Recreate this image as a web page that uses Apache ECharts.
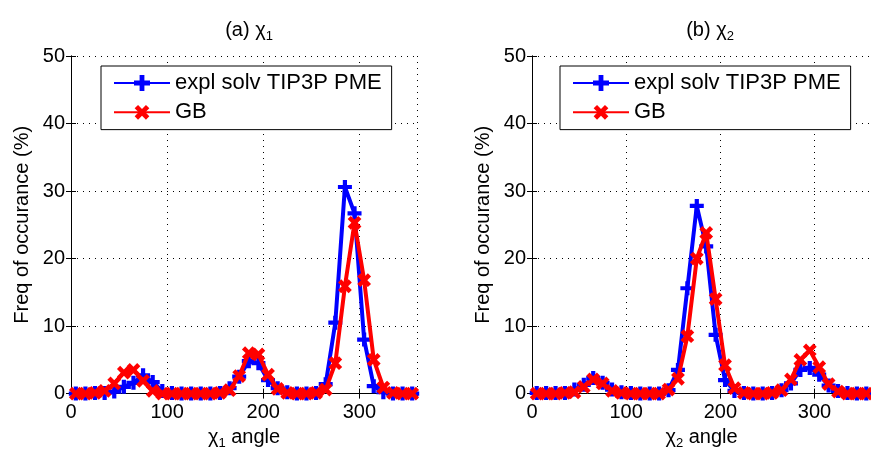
<!DOCTYPE html>
<html>
<head>
<meta charset="utf-8">
<script src="https://cdn.jsdelivr.net/npm/echarts@6/dist/echarts.min.js"></script>
<style>
html,body{margin:0;padding:0;background:#fff;}
#c{width:871px;height:455px;}
</style>
</head>
<body>
<div id="c"></div>
<script>
// ---- data ----
const angles = [5,15,25,35,45,55,65,75,85,95,105,115,125,135,145,155,165,175,185,195,205,215,225,235,245,255,265,275,285,295,305,315,325,335,345,355];
const chi1Expl = [0,0,0.1,0.1,0.3,1.0,1.6,2.7,1.7,0.4, 0.1,0,0,0,0,0.1,0.8,2.5,4.8,4.5, 2.0,0.8,0.2,0,0,0.1,1.4,10.5,30.6,26.7, 8.0,1.1,0.2,0,0,0];
const chi1GB   = [0,0,0.1,0.4,1.5,3.1,3.5,1.9,0.4,0, 0,0,0,0,0,0.1,0.5,2.6,6.0,5.8, 2.8,0.7,0.1,0,0,0.1,0.6,4.5,15.9,25.3, 16.8,5.0,0.9,0.1,0,0];
const chi2Expl = [0.1,0.1,0.1,0.1,0.6,1.3,2.3,1.6,0.6,0.2, 0.1,0,0,0,0.5,3.5,15.6,27.8,21.8,8.7, 2.0,0.4,0.1,0,0,0.1,0.5,1.5,3.5,3.8, 2.8,1.2,0.4,0.1,0,0];
const chi2GB   = [0,0,0,0.1,0.2,1.0,2.1,1.5,0.4,0.1, 0,0,0,0,0.6,2.2,8.5,20.0,23.8,14.0, 4.2,0.8,0.1,0,0,0.1,0.5,2.1,5.0,6.4, 3.9,1.4,0.3,0,0,0];
const xTicks = [0,100,200,300];
const yTicks = [0,10,20,30,40,50];
const seriesNames = ['expl solv TIP3P PME','GB'];
const panelTitles = ['(a) χ','(b) χ'];
const panelSubs = ['1','2'];
const yAxisTitle = 'Freq of occurance (%)';
const xAxisTitleRest = ' angle';

// ---- style ----
const FONT = 'Liberation Sans, Arial, Helvetica, sans-serif';
const BLUE = '#0000ff', RED = '#ff0000';
const PLUS = 'path://M3.5,0L6.5,0L6.5,3.5L10,3.5L10,6.5L6.5,6.5L6.5,10L3.5,10L3.5,6.5L0,6.5L0,3.5L3.5,3.5Z';
const grids = [
  {left:71, top:56, width:346, height:345},
  {left:532, top:56, width:346, height:345}
];
const axisLine = {show:true, lineStyle:{color:'#000', width:1}};
const tick = {show:true, inside:true, length:5, lineStyle:{color:'#000'}};
const split = {show:true, lineStyle:{color:'#000', width:1, type:[1,5]}};
const lbl = {color:'#000', fontSize:20, fontFamily:FONT};

const xAxis = [], yAxis = [], series = [], title = [], legend = [];
for (let g = 0; g < 2; g++) {
  xAxis.push({gridIndex:g, type:'value', position:'bottom', min:0, max:360, interval:100,
    axisLine, axisTick:tick, splitLine:split,
    axisLabel:Object.assign({margin:9, showMaxLabel:false,
      formatter:v => xTicks.includes(v) ? String(v) : ''}, lbl),
    name:'{g|χ}{s|' + panelSubs[g] + '}{g|' + xAxisTitleRest + '}', nameLocation:'middle', nameGap:26,
    nameTextStyle:{color:'#000', fontFamily:FONT,
      rich:{g:{fontSize:20, fontFamily:FONT, color:'#000'}, s:{fontSize:13, fontFamily:FONT, color:'#000', padding:[12,0,0,0]}}}
  });
  xAxis.push({gridIndex:g, type:'value', position:'top', min:0, max:360, interval:100,
    axisLine, axisTick:tick, splitLine:{show:false}, axisLabel:{show:false}});
  yAxis.push({gridIndex:g, type:'value', position:'left', min:0, max:50, interval:10,
    axisLine, axisTick:tick, splitLine:split,
    axisLabel:Object.assign({margin:6, formatter:v => yTicks.includes(v) ? String(v) : ''}, lbl),
    name:yAxisTitle, nameLocation:'middle', nameGap:39,
    nameTextStyle:{color:'#000', fontSize:20, fontFamily:FONT}
  });
  yAxis.push({gridIndex:g, type:'value', position:'right', min:0, max:50, interval:10,
    axisLine, axisTick:tick, splitLine:{show:false}, axisLabel:{show:false}});

  const vals = g === 0 ? [chi1Expl, chi1GB] : [chi2Expl, chi2GB];
  series.push({
    name:seriesNames[0], type:'line', xAxisIndex:2*g, yAxisIndex:2*g,
    data:angles.map((a,i)=>[a, vals[0][i]]),
    symbol:PLUS, symbolSize:14, showAllSymbol:true,
    lineStyle:{color:BLUE, width:4}, itemStyle:{color:BLUE}, z:2
  });
  series.push({
    name:seriesNames[1], type:'line', xAxisIndex:2*g, yAxisIndex:2*g,
    data:angles.map((a,i)=>[a, vals[1][i]]),
    symbol:PLUS, symbolSize:15, symbolRotate:45, showAllSymbol:true,
    lineStyle:{color:RED, width:4}, itemStyle:{color:RED}, z:3
  });

  title.push({
    text:panelTitles[g] + '{s|' + panelSubs[g] + '}',
    left:grids[g].left + 173, top:13, textAlign:'center',
    textStyle:{color:'#000', fontSize:20, fontWeight:'normal', fontFamily:FONT,
      rich:{s:{fontSize:13, fontFamily:FONT, color:'#000', padding:[12,0,0,0]}}}
  });
  legend.push({
    data:seriesNames, orient:'vertical', left:g === 0 ? 101 : 560, top:66,
    backgroundColor:'#fff', borderColor:'#000', borderWidth:1,
    padding:[6,10,6,12], itemGap:7, itemWidth:56, itemHeight:20,
    textStyle:{color:'#000', fontSize:22, fontFamily:FONT}, selectedMode:false
  });
}

const chart = echarts.init(document.getElementById('c'), null, {renderer:'canvas'});
chart.setOption({
  animation:false, backgroundColor:'#fff',
  grid:grids, xAxis, yAxis, series, title, legend
});
</script>
</body>
</html>
